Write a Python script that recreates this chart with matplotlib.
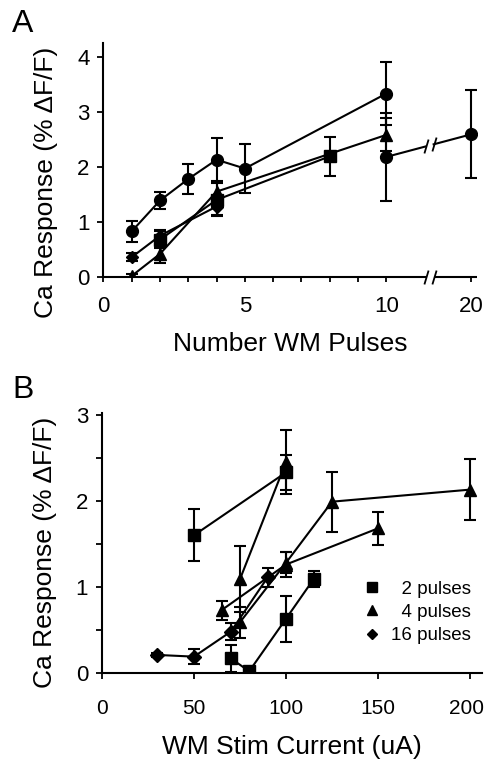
import matplotlib
matplotlib.use("Agg")
import matplotlib.pyplot as plt
import matplotlib.transforms as mtransforms
import numpy as np

plt.rcParams['font.family'] = ['Liberation Sans', 'DejaVu Sans']

# ---- panel A data: response vs number of pulses ----
a_circ1_x = [1, 2, 3, 4, 5, 10]
a_circ1_y = [0.83, 1.39, 1.78, 2.13, 1.97, 3.33]
a_circ1_e = [0.19, 0.15, 0.27, 0.40, 0.44, 0.57]

a_circ2_x = [10, 20]
a_circ2_y = [2.18, 2.59]
a_circ2_e = [0.80, 0.80]

a_sq_x = [2, 4, 8]
a_sq_y = [0.68, 1.40, 2.19]
a_sq_e = [0.15, 0.30, 0.36]

a_tri_x = [1, 2, 4, 10]
a_tri_y = [0.02, 0.42, 1.55, 2.58]
a_tri_e = [0.03, 0.17, 0.20, 0.30]

a_dia_x = [1, 2, 4]
a_dia_y = [0.36, 0.75, 1.28]
a_dia_e = [0.07, 0.10, 0.15]

# ---- panel B data: response vs stim current ----
b_sq1_x = [50, 100]
b_sq1_y = [1.60, 2.33]
b_sq1_e = [0.30, 0.20]

b_sq2_x = [70, 80, 100, 115]
b_sq2_y = [0.17, 0.02, 0.63, 1.09]
b_sq2_e = [0.16, 0.02, 0.27, 0.09]

b_tri1_x = [75, 100]
b_tri1_y = [1.09, 2.45]
b_tri1_e = [0.38, 0.37]

b_tri2_x = [65, 100, 150]
b_tri2_y = [0.73, 1.26, 1.68]
b_tri2_e = [0.11, 0.14, 0.19]

b_tri3_x = [75, 100, 125, 200]
b_tri3_y = [0.59, 1.28, 1.99, 2.13]
b_tri3_e = [0.18, 0.12, 0.35, 0.35]

b_dia_x = [30, 50, 70, 90]
b_dia_y = [0.21, 0.19, 0.48, 1.11]
b_dia_e = [0.02, 0.09, 0.10, 0.11]

legend_labels = ['  2 pulses', '  4 pulses', '16 pulses']

# broken x scale for panel A
BRK = 11.4
K = 0.186
GAP_END = 12.9


def fwd(x):
    x = np.asarray(x, float)
    return np.where(x <= BRK, x, BRK + (x - BRK) * K)


def inv(x):
    x = np.asarray(x, float)
    return np.where(x <= BRK, x, BRK + (x - BRK) / K)


fig = plt.figure(figsize=(4.87, 7.62), dpi=100)
axA = fig.add_axes([0.2125, 0.6365, 0.979 - 0.2125, 0.9436 - 0.6365])
axB = fig.add_axes([0.2094, 0.1168, 0.9897 - 0.2094, 0.458 - 0.1168])

eb = dict(color='k', ecolor='k', lw=1.5, elinewidth=1.5, capsize=4, capthick=1.5,
          mfc='k', mec='k')

# panel A
axA.set_xscale('function', functions=(fwd, inv))
axA.errorbar(a_circ1_x, a_circ1_y, yerr=a_circ1_e, fmt='-o', ms=8.5, **eb)
axA.errorbar(a_sq_x, a_sq_y, yerr=a_sq_e, fmt='-s', ms=8, **eb)
axA.errorbar(a_tri_x, a_tri_y, yerr=a_tri_e, fmt='-^', ms=8.5, **eb)
axA.errorbar(a_dia_x, a_dia_y, yerr=a_dia_e, fmt='-D', ms=6.5, **eb)
axA.errorbar(a_circ2_x, a_circ2_y, yerr=a_circ2_e, fmt='o', ms=8.5, **eb)

# connecting line of the 10 -> 20 series, broken at the axis gap
ya = float(np.interp(fwd(BRK), fwd(a_circ2_x), a_circ2_y))
yb = float(np.interp(fwd(GAP_END), fwd(a_circ2_x), a_circ2_y))
axA.plot([a_circ2_x[0], BRK], [a_circ2_y[0], ya], 'k-', lw=1.5)
axA.plot([GAP_END, a_circ2_x[1]], [yb, a_circ2_y[1]], 'k-', lw=1.5)
slash = [(-0.3, -1), (0.3, 1)]
axA.plot([BRK, GAP_END], [ya, yb], ls='none', marker=slash, ms=10, mec='k', mew=1.3)

axA.set_xlim(0, 21.1)
axA.set_ylim(0, 4.25)
axA.spines['top'].set_visible(False)
axA.spines['right'].set_visible(False)
axA.spines['bottom'].set_visible(False)
axA.spines['left'].set_linewidth(1.5)
xt = axA.get_xaxis_transform()
axA.plot([0, BRK], [0, 0], 'k-', lw=1.5, transform=xt, clip_on=False, solid_capstyle='butt')
axA.plot([GAP_END, 21.1], [0, 0], 'k-', lw=1.5, transform=xt, clip_on=False, solid_capstyle='butt')
axA.plot([BRK, GAP_END], [0, 0], ls='none', marker=slash, ms=10, mec='k', mew=1.3,
         transform=xt, clip_on=False)
axA.set_xticks([0, 5, 10, 20])
axA.set_xticklabels(['0', '5', '10', '20'])
axA.set_xticks([1, 2, 3, 4, 6, 7, 8, 9], minor=True)
axA.set_yticks([0, 1, 2, 3, 4])
axA.tick_params(axis='x', which='both', direction='out', length=3.5, width=1.3,
                labelsize=16, pad=10)
axA.tick_params(axis='y', direction='out', length=4, width=1.3, labelsize=16, pad=6)
axA.set_xlabel('Number WM Pulses', fontsize=19)
axA.set_ylabel('Ca Response (% \u0394F/F)', fontsize=19)
axA.xaxis.set_label_coords(0.5, -0.235)
axA.yaxis.set_label_coords(-0.123, 0.406)

# panel B
axB.errorbar(b_sq1_x, b_sq1_y, yerr=b_sq1_e, fmt='-s', ms=8.5, **eb)
axB.errorbar(b_sq2_x, b_sq2_y, yerr=b_sq2_e, fmt='-s', ms=8.5, **eb)
axB.errorbar(b_tri1_x, b_tri1_y, yerr=b_tri1_e, fmt='-^', ms=9, **eb)
axB.errorbar(b_tri2_x, b_tri2_y, yerr=b_tri2_e, fmt='-^', ms=9, **eb)
axB.errorbar(b_tri3_x, b_tri3_y, yerr=b_tri3_e, fmt='-^', ms=9, **eb)
axB.errorbar(b_dia_x, b_dia_y, yerr=b_dia_e, fmt='-D', ms=7.5, **eb)

axB.set_xlim(0, 206.5)
axB.set_ylim(0, 3.02)
axB.spines['top'].set_visible(False)
axB.spines['right'].set_visible(False)
for s in ['left', 'bottom']:
    axB.spines[s].set_linewidth(1.5)
axB.set_xticks([0, 50, 100, 150, 200])
axB.set_yticks([0, 1, 2, 3])
axB.set_yticks([0.5, 1.5, 2.5], minor=True)
axB.tick_params(axis='x', direction='out', length=4, width=1.3, labelsize=15, pad=15)
axB.tick_params(axis='y', which='both', direction='out', length=4, width=1.3,
                labelsize=16, pad=6)
# nudge the last label so it stays inside the figure
shift = mtransforms.ScaledTranslation(-3.5 / 100, 0, fig.dpi_scale_trans)
for lab in axB.get_xticklabels():
    if lab.get_text() == '200':
        lab.set_transform(lab.get_transform() + shift)
axB.set_xlabel('WM Stim Current (uA)', fontsize=19)
axB.set_ylabel('Ca Response (% \u0394F/F)', fontsize=19)
axB.xaxis.set_label_coords(0.5, -0.238)
axB.yaxis.set_label_coords(-0.118, 0.465)

handles = [plt.Line2D([], [], ls='none', marker=m, ms=s, color='k')
           for m, s in [('s', 6.5), ('^', 7), ('D', 5.5)]]
axB.legend(handles, legend_labels, loc='upper right', bbox_to_anchor=(0.97, 0.355),
           frameon=False, fontsize=13.5, handlelength=1.0, handletextpad=0.5,
           labelspacing=0.32, borderpad=0, borderaxespad=0)

fig.text(0.024, 0.958, 'A', fontsize=23)
fig.text(0.026, 0.4777, 'B', fontsize=23)

fig.savefig('out.png', dpi=100)
